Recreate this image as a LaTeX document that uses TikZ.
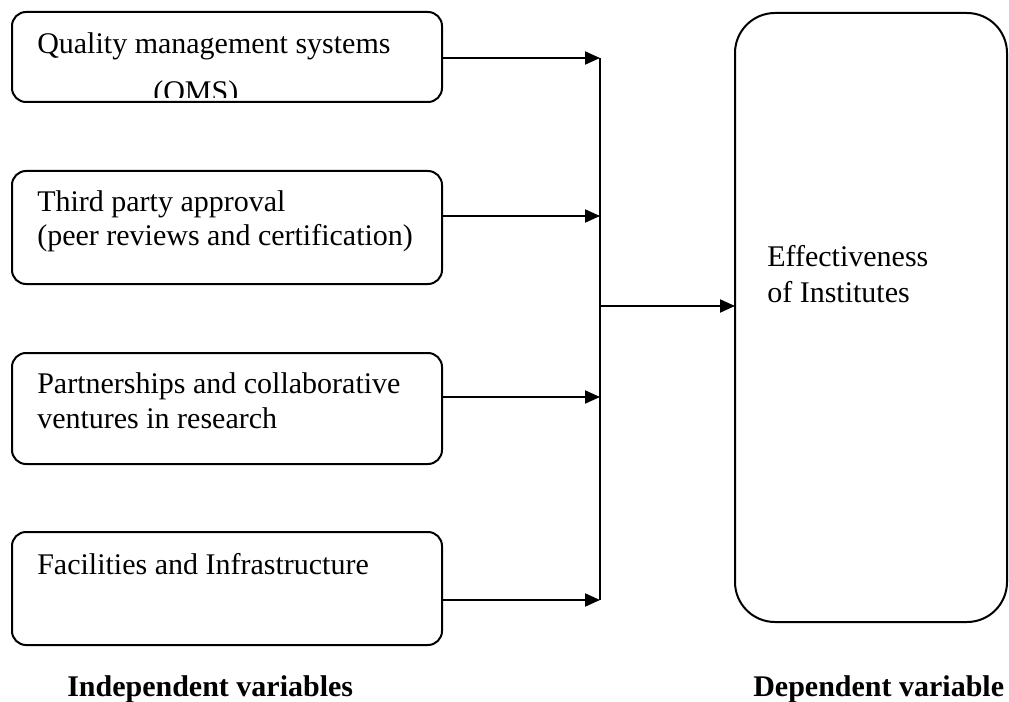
\documentclass[tikz,border=0pt]{standalone}
\usepackage{fontspec}
\setmainfont{Liberation Serif}
\usetikzlibrary{arrows.meta}
\begin{document}
\begin{tikzpicture}[x=0.75pt,y=-0.75pt,
  box/.style={draw,line width=1.5pt,rounded corners=10.5pt},
  bigbox/.style={draw,line width=1.5pt,rounded corners=30pt},
  txt/.style={anchor=base west,inner sep=0pt,font=\fontsize{22.5}{25}\selectfont},
  lbl/.style={anchor=base west,inner sep=0pt,font=\fontsize{22.5}{25}\selectfont\bfseries},
  conn/.style={line width=1.5pt},
  arr/.style={line width=1.5pt,-{Triangle[length=11.25pt,width=9.75pt]}}]
\useasboundingbox (0,0) rectangle (1009,702);
% boxes
\draw[box] (12,12) rectangle (442,102);
\coordinate (b1) at (442,57);
\draw[box] (12,171) rectangle (442,284);
\coordinate (b2) at (442,227);
\draw[box] (12,353) rectangle (442,464);
\coordinate (b3) at (442,408);
\draw[box] (12,532) rectangle (442,645);
\coordinate (b4) at (442,588);
\draw[bigbox] (735,13) rectangle (1007,622);
\coordinate (rb) at (735,306);
% texts
\node[txt] (t1a) at (37,54) {Quality management systems};
\begin{scope}
\clip (100,60) rectangle (300,98);
\node[txt] (t1b) at (153,102) {(QMS)};
\end{scope}
\node[txt] (t2a) at (37,212) {Third party approval};
\node[txt] (t2b) at (37,245) {(peer reviews and certification)};
\node[txt] (t3a) at (37,393) {Partnerships and collaborative};
\node[txt] (t3b) at (37,428) {ventures in research};
\node[txt] (t4a) at (37,574) {Facilities and Infrastructure};
\node[txt] (tra) at (767,267) {Effectiveness};
\node[txt] (trb) at (767,302) {of Institutes};
\node[lbl] (li) at (67,696) {Independent variables};
\node[lbl] (ld) at (753,696) {Dependent variable};
% junction
\coordinate (j1) at (600,58);
\coordinate (j2) at (600,216);
\coordinate (j3) at (600,397);
\coordinate (j4) at (600,600);
\coordinate (jm) at (600,306);
\draw[conn] (j1) -- (j4);
\draw[arr] (b1 |- j1) -- (j1);
\draw[arr] (b2 |- j2) -- (j2);
\draw[arr] (b3 |- j3) -- (j3);
\draw[arr] (b4 |- j4) -- (j4);
\draw[arr] (jm) -- (rb);
\end{tikzpicture}
\end{document}
